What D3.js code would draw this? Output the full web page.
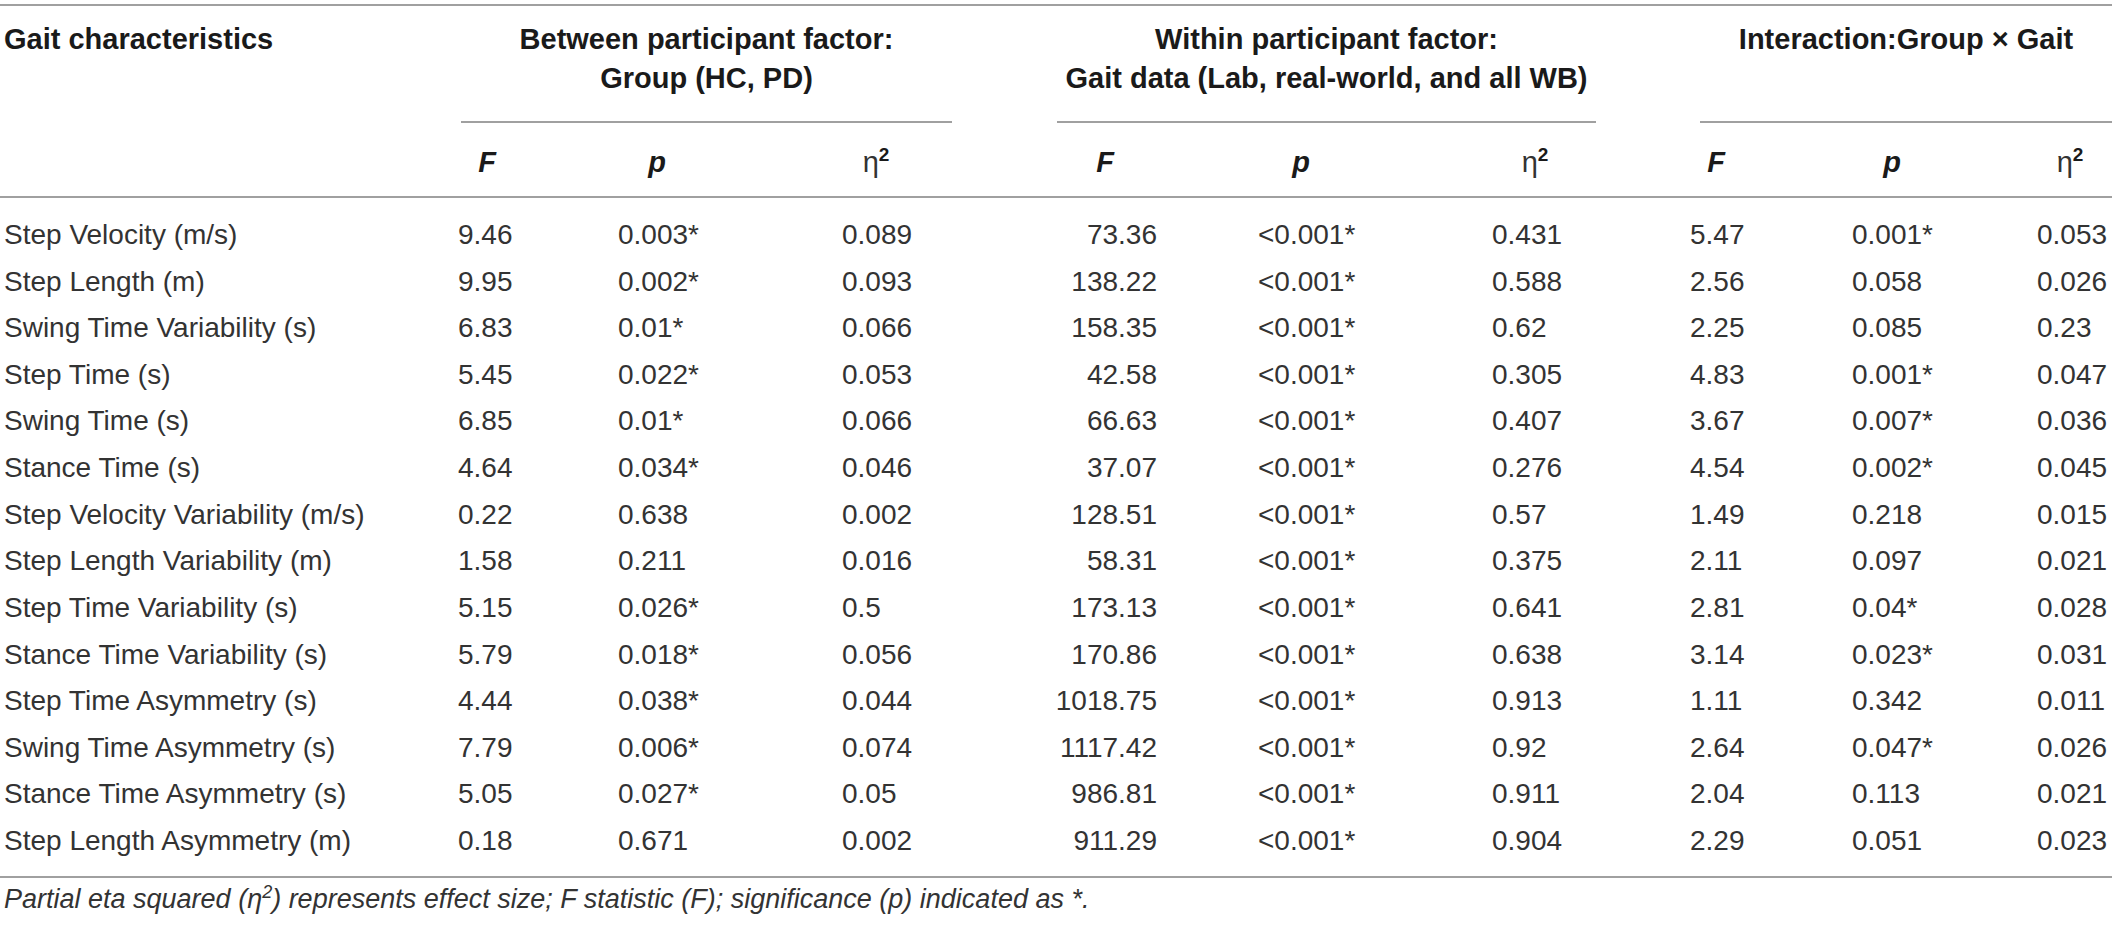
<!DOCTYPE html>
<html>
<head>
<meta charset="utf-8">
<script src="https://cdn.jsdelivr.net/npm/d3@7"></script>
<style>
  body { margin: 0; background: #fff; }
  svg { display: block; }
  .body-text { font-family: "Liberation Sans", Arial, sans-serif; font-size: 28px; fill: #333; }
  .head-text { font-family: "Liberation Sans", Arial, sans-serif; font-size: 29px; font-weight: bold; fill: #1a1a1a; }
  .note-text { font-family: "Liberation Sans", Arial, sans-serif; font-size: 27px; font-style: italic; fill: #333; }
  .rule { stroke: #a0a0a0; stroke-width: 2; }
</style>
</head>
<body>
<div id="vis"></div>
<script>
// table values
var gaitNames = [
  "Step Velocity (m/s)", "Step Length (m)", "Swing Time Variability (s)", "Step Time (s)",
  "Swing Time (s)", "Stance Time (s)", "Step Velocity Variability (m/s)", "Step Length Variability (m)",
  "Step Time Variability (s)", "Stance Time Variability (s)", "Step Time Asymmetry (s)",
  "Swing Time Asymmetry (s)", "Stance Time Asymmetry (s)", "Step Length Asymmetry (m)"
];
var betweenF = ["9.46", "9.95", "6.83", "5.45", "6.85", "4.64", "0.22", "1.58", "5.15", "5.79", "4.44", "7.79", "5.05", "0.18"];
var betweenP = ["0.003*", "0.002*", "0.01*", "0.022*", "0.01*", "0.034*", "0.638", "0.211", "0.026*", "0.018*", "0.038*", "0.006*", "0.027*", "0.671"];
var betweenEta = ["0.089", "0.093", "0.066", "0.053", "0.066", "0.046", "0.002", "0.016", "0.5", "0.056", "0.044", "0.074", "0.05", "0.002"];
var withinF = ["73.36", "138.22", "158.35", "42.58", "66.63", "37.07", "128.51", "58.31", "173.13", "170.86", "1018.75", "1117.42", "986.81", "911.29"];
var withinP = ["<0.001*", "<0.001*", "<0.001*", "<0.001*", "<0.001*", "<0.001*", "<0.001*", "<0.001*", "<0.001*", "<0.001*", "<0.001*", "<0.001*", "<0.001*", "<0.001*"];
var withinEta = ["0.431", "0.588", "0.62", "0.305", "0.407", "0.276", "0.57", "0.375", "0.641", "0.638", "0.913", "0.92", "0.911", "0.904"];
var interF = ["5.47", "2.56", "2.25", "4.83", "3.67", "4.54", "1.49", "2.11", "2.81", "3.14", "1.11", "2.64", "2.04", "2.29"];
var interP = ["0.001*", "0.058", "0.085", "0.001*", "0.007*", "0.002*", "0.218", "0.097", "0.04*", "0.023*", "0.342", "0.047*", "0.113", "0.051"];
var interEta = ["0.053", "0.026", "0.23", "0.047", "0.036", "0.045", "0.015", "0.021", "0.028", "0.031", "0.011", "0.026", "0.021", "0.023"];

var groupTitles = [
  ["Between participant factor:", "Group (HC, PD)"],
  ["Within participant factor:", "Gait data (Lab, real-world, and all WB)"],
  ["Interaction:Group \u00d7 Gait"]
];
var firstHeader = "Gait characteristics";
var footNote = "Partial eta squared (\u03b7";
var footNoteRest = ") represents effect size; F statistic (F); significance (p) indicated as *.";

var width = 2117;
var height = 938;

var svg = d3.select("#vis").append("svg")
  .attr("width", width)
  .attr("height", height);

svg.append("rect").attr("width", width).attr("height", height).attr("fill", "#fff");

// row baselines
var y = d3.scalePoint()
  .domain(gaitNames)
  .range([244, 850]);

// group spans (x of underline) and column layout
var groups = [
  { x0: 461, x1: 952 },
  { x0: 1057, x1: 1596 },
  { x0: 1700, x1: 2112 }
];

var columns = [
  { values: betweenF, x: 458, anchor: "start", head: "F", hx: 487 },
  { values: betweenP, x: 618, anchor: "start", head: "p", hx: 657 },
  { values: betweenEta, x: 842, anchor: "start", head: "eta", hx: 876 },
  { values: withinF, x: 1157, anchor: "end", head: "F", hx: 1105 },
  { values: withinP, x: 1258, anchor: "start", head: "p", hx: 1301 },
  { values: withinEta, x: 1492, anchor: "start", head: "eta", hx: 1535 },
  { values: interF, x: 1690, anchor: "start", head: "F", hx: 1716 },
  { values: interP, x: 1852, anchor: "start", head: "p", hx: 1892 },
  { values: interEta, x: 2037, anchor: "start", head: "eta", hx: 2070 }
];

// rules
svg.append("line").attr("class", "rule").attr("x1", 0).attr("x2", 2112).attr("y1", 5).attr("y2", 5);
svg.append("line").attr("class", "rule").attr("x1", 0).attr("x2", 2112).attr("y1", 197).attr("y2", 197);
svg.append("line").attr("class", "rule").attr("x1", 0).attr("x2", 2112).attr("y1", 877).attr("y2", 877);

svg.selectAll(".group-rule")
  .data(groups)
  .enter().append("line")
  .attr("class", "rule group-rule")
  .attr("x1", function (d) { return d.x0; })
  .attr("x2", function (d) { return d.x1; })
  .attr("y1", 122).attr("y2", 122);

// header row 1
svg.append("text")
  .attr("class", "head-text")
  .attr("x", 4)
  .attr("y", 49)
  .text(firstHeader);

groupTitles.forEach(function (lines, i) {
  var cx = (groups[i].x0 + groups[i].x1) / 2;
  lines.forEach(function (t, j) {
    svg.append("text")
      .attr("class", "head-text")
      .attr("x", cx)
      .attr("y", 49 + j * 39)
      .attr("text-anchor", "middle")
      .text(t);
  });
});

// header row 2 (F, p, eta squared)
columns.forEach(function (c) {
  var t = svg.append("text")
    .attr("class", "head-text")
    .attr("x", c.hx)
    .attr("y", 172)
    .attr("text-anchor", "middle");
  if (c.head === "eta") {
    t.append("tspan").attr("font-weight", "normal").attr("fill", "#333").text("\u03b7");
    t.append("tspan").attr("font-size", "19px").attr("dy", -11).text("2");
  } else {
    t.attr("font-style", "italic").text(c.head);
  }
});

// body rows
svg.selectAll(".row-name")
  .data(gaitNames)
  .enter().append("text")
  .attr("class", "body-text row-name")
  .attr("x", 4)
  .attr("y", function (d) { return y(d); })
  .text(function (d) { return d; });

columns.forEach(function (c, ci) {
  svg.selectAll(".col-" + ci)
    .data(c.values)
    .enter().append("text")
    .attr("class", "body-text col-" + ci)
    .attr("x", c.x)
    .attr("y", function (d, i) { return y(gaitNames[i]); })
    .attr("text-anchor", c.anchor)
    .text(function (d) { return d; });
});

// footnote
var note = svg.append("text")
  .attr("class", "note-text")
  .attr("x", 4)
  .attr("y", 908);
note.append("tspan").text(footNote);
note.append("tspan").attr("font-size", "18px").attr("dy", -10).text("2");
note.append("tspan").attr("dy", 10).text(footNoteRest);
</script>
</body>
</html>
